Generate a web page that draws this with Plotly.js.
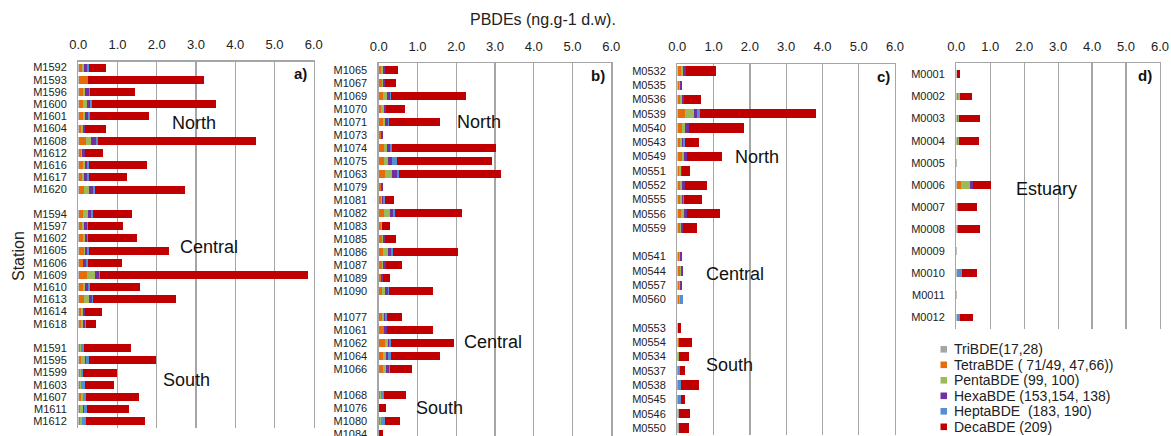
<!DOCTYPE html>
<html><head><meta charset="utf-8">
<script src="https://cdn.plot.ly/plotly-3.0.1.min.js"></script>
<style>html,body{margin:0;padding:0;overflow:hidden;background:#fff;width:1171px;height:436px}</style>
</head><body><div id="chart" style="width:1171px;height:470px"></div>
<script>
// ---------- series ----------
const seriesNames = ["TriBDE(17,28)", "TetraBDE ( 71/49, 47,66))", "PentaBDE (99, 100)", "HexaBDE (153,154, 138)", "HeptaBDE  (183, 190)", "DecaBDE (209)"];
const seriesColors = ["#a5a5a5", "#e46c0a", "#9bbb59", "#7030a0", "#558ed5", "#c00000"];

// ---------- panel a ----------
const aNorth   = ["M1592","M1593","M1596","M1600","M1601","M1604","M1608","M1612","M1616","M1617","M1620"];
const aCentral = ["M1594","M1597","M1602","M1605","M1606","M1609","M1610","M1613","M1614","M1618"];
const aSouth   = ["M1591","M1595","M1599","M1603","M1607","M1611","M1612"];
const aTri   = [0.02,0.02,0.02,0.02,0.02,0.02,0.02,0.02,0.02,0.02,0.02, 0.02,0.02,0.02,0.02,0.02,0.02,0.02,0.02,0.02,0.02, 0.02,0.02,0.02,0.02,0.02,0.02,0.02];
const aTetra = [0.08,0.23,0.09,0.09,0.09,0.04,0.17,0.04,0.09,0.07,0.13, 0.09,0.07,0.09,0.12,0.09,0.20,0.09,0.13,0.06,0.06, 0.02,0.05,0.02,0.02,0.04,0.02,0.03];
const aPenta = [0.05,0,0.07,0.11,0.06,0.05,0.14,0.04,0.05,0.06,0.12, 0.14,0.06,0.06,0.03,0,0.20,0.07,0.12,0.04,0.04, 0.03,0.10,0.02,0.04,0.06,0.07,0.05];
const aHexa  = [0.07,0,0.08,0.07,0.07,0.06,0.13,0.07,0.07,0.07,0.11, 0.08,0.08,0.05,0.05,0.08,0.10,0.07,0.08,0.05,0.06, 0,0.03,0,0,0,0.03,0];
const aHepta = [0.05,0,0.05,0.05,0.05,0,0.05,0,0.03,0.06,0.05, 0.05,0.02,0.02,0.04,0.06,0.04,0.04,0.03,0,0.02, 0.08,0.07,0.07,0.08,0.08,0.08,0.09];
const aDeca  = [0.44,2.96,1.14,3.16,1.50,0.53,4.02,0.45,1.48,0.97,2.28, 0.99,0.88,1.25,2.06,0.87,5.30,1.28,2.12,0.43,0.25, 1.19,1.72,0.85,0.74,1.34,1.07,1.50];

// ---------- panel b ----------
const bNorth   = ["M1065","M1067","M1069","M1070","M1071","M1073","M1074","M1075","M1063","M1079","M1081","M1082","M1083","M1085","M1086","M1087","M1089","M1090"];
const bCentral = ["M1077","M1061","M1062","M1064","M1066"];
const bSouth   = ["M1068","M1076","M1080","M1084"];
const bTri   = [0.02,0.02,0.02,0.02,0.02,0.02,0.02,0.02,0.02,0.02,0.02,0.02,0.02,0.02,0.02,0.02,0.02,0.02, 0.02,0.02,0.02,0.02,0.02, 0.02,0.02,0.02,0.01];
const bTetra = [0.04,0.06,0.09,0.05,0.09,0.05,0.11,0.11,0.13,0.04,0.04,0.11,0.04,0.06,0.09,0.06,0.04,0.07, 0.06,0.11,0.13,0.09,0.08, 0.02,0,0.02,0];
const bPenta = [0.04,0.03,0.11,0.06,0.06,0,0.09,0.11,0.20,0,0.03,0.15,0.03,0.03,0.12,0.04,0,0.08, 0.05,0,0.09,0.09,0.09, 0.03,0,0.03,0];
const bHexa  = [0.05,0.05,0.08,0.05,0.06,0.03,0.08,0.10,0.11,0.06,0.03,0.09,0,0.04,0.08,0.07,0.06,0.07, 0.04,0.08,0.03,0.04,0.07, 0,0,0,0];
const bHepta = [0,0,0.03,0,0.03,0,0.04,0.14,0.06,0,0.03,0.06,0,0,0.07,0,0,0.03, 0.04,0,0.04,0.07,0.02, 0.07,0,0.08,0];
const bDeca  = [0.34,0.28,1.92,0.49,1.32,0,2.69,2.43,2.64,0,0.24,1.71,0.21,0.29,1.67,0.42,0.18,1.14, 0.40,1.20,1.63,1.27,0.58, 0.57,0.17,0.40,0.09];

// ---------- panel c ----------
const cNorth   = ["M0532","M0535","M0536","M0539","M0540","M0543","M0549","M0551","M0552","M0555","M0556","M0559"];
const cCentral = ["M0541","M0544","M0557","M0560"];
const cSouth   = ["M0553","M0554","M0534","M0537","M0538","M0545","M0546","M0550"];
const cTri   = [0.02,0.02,0.02,0.02,0.02,0.02,0.02,0.02,0.02,0.02,0.02,0.02, 0.02,0.02,0.02,0.02, 0.01,0.02,0.02,0,0,0,0.04,0.04];
const cTetra = [0.07,0.04,0.05,0.20,0.10,0.05,0.10,0.04,0.05,0.05,0.08,0.05, 0.04,0.05,0.03,0.03, 0,0.02,0,0,0,0,0,0];
const cPenta = [0.08,0.02,0.05,0.25,0.10,0.05,0.06,0.04,0.06,0.05,0.08,0.04, 0.02,0.03,0.02,0.03, 0,0,0.03,0,0,0,0,0];
const cHexa  = [0.07,0.05,0.07,0.07,0.09,0.04,0.09,0.04,0.07,0.04,0.08,0.04, 0.05,0.05,0.05,0, 0,0,0,0,0,0,0,0];
const cHepta = [0,0,0,0.08,0,0.04,0,0,0.02,0.03,0,0, 0,0,0,0.07, 0,0,0,0.08,0.11,0.09,0,0];
const cDeca  = [0.83,0,0.46,3.20,1.52,0.40,0.96,0.21,0.60,0.48,0.93,0.39, 0,0,0,0, 0.09,0.36,0.27,0.12,0.48,0.13,0.30,0.29];

// ---------- panel d ----------
const dEstuary = ["M0001","M0002","M0003","M0004","M0005","M0006","M0007","M0008","M0009","M0010","M0011","M0012"];
const dTri   = [0.01,0.01,0.01,0.01,0.02,0.01,0.01,0.01,0.01,0.01,0.01,0.01];
const dTetra = [0.01,0.04,0.04,0.04,0,0.14,0.03,0.05,0,0.05,0,0];
const dPenta = [0,0.05,0.04,0.04,0,0.25,0,0,0,0,0,0];
const dHexa  = [0,0,0,0,0,0.10,0,0,0,0,0,0];
const dHepta = [0,0,0,0,0,0,0,0,0,0.10,0,0.09];
const dDeca  = [0.08,0.37,0.62,0.58,0,0.51,0.58,0.63,0,0.44,0,0.40];

const tickVals = [0,1,2,3,4,5,6];
const tickLabels = ["0.0","1.0","2.0","3.0","4.0","5.0","6.0"];

// ---------- layout helpers (pixels -> paper) ----------
const W = 1171, H = 470;
const PX = p => p / W, PY = p => 1 - p / H;

const panels = [
  {groups:[aNorth,aCentral,aSouth], series:[aTri,aTetra,aPenta,aHexa,aHepta,aDeca], x0:78.3, x1:313.7, top:61.5, rowH:12.2, rows:30, barW:0.66,
   label:"a)", labelPos:[5.88,0.45], regions:[["North",2.95,4.5],["Central",3.33,14.7],["South",2.76,25.6]]},
  {groups:[bNorth,bCentral,bSouth], series:[bTri,bTetra,bPenta,bHexa,bHepta,bDeca], x0:378.7, x1:611.3, top:63.3, rowH:13.0, rows:30, barW:0.62,
   label:"b)", labelPos:[5.88,0.44], regions:[["North",2.59,4.05],["Central",2.96,20.9],["South",1.56,26.0]]},
  {groups:[cNorth,cCentral,cSouth], series:[cTri,cTetra,cPenta,cHexa,cHepta,cDeca], x0:677.3, x1:895, top:63.8, rowH:14.28, rows:26, barW:0.65,
   label:"c)", labelPos:[5.91,0.42], regions:[["North",2.21,6.0],["Central",1.6,14.2],["South",1.43,20.6]]},
  {groups:[dEstuary], series:[dTri,dTetra,dPenta,dHexa,dHepta,dDeca], x0:956.3, x1:1160, top:63.3, rowH:22.1, rows:12, barW:0.35,
   label:"d)", labelPos:[5.82,0.06], regions:[["Estuary",2.65,5.2]]}
];

const data = [];
const annotations = [];
const shapes = [];
const layout = {
  width: W, height: H,
  margin: {l:0, r:0, t:0, b:0},
  paper_bgcolor: "#fff", plot_bgcolor: "#fff",
  barmode: "stack",
  showlegend: false,
  font: {family: "Liberation Sans, Arial, sans-serif", color: "#222"},
  annotations, shapes
};

panels.forEach((p, i) => {
  const n = i === 0 ? "" : String(i + 1);
  // build row positions, one blank row between groups
  const labels = [], rowsY = [];
  let r = 0;
  p.groups.forEach((g, gi) => {
    if (gi > 0) r++;
    g.forEach(s => { labels.push(s); rowsY.push(r); r++; });
  });
  p.series.forEach((vals, si) => {
    data.push({
      type: "bar", orientation: "h", x: vals, y: rowsY,
      width: p.barW,
      name: seriesNames[si],
      marker: {color: seriesColors[si], line: {width: 0}},
      xaxis: "x" + n, yaxis: "y" + n, hoverinfo: "x+name"
    });
  });
  const bottom = p.top + p.rowH * p.rows;
  layout["xaxis" + n] = {
    domain: [PX(p.x0), PX(p.x1)], anchor: "y" + n, side: "top",
    range: [0, 6], tickvals: tickVals, ticktext: tickLabels,
    showgrid: true, gridcolor: "#a6a6a6", gridwidth: 1.3,
    zeroline: false, showline: true, linecolor: "#a6a6a6", linewidth: 1.3,
    ticks: "", ticklabelstandoff: 6,
    tickfont: {size: 13, color: "#222"}, fixedrange: true
  };
  layout["yaxis" + n] = {
    domain: [PY(bottom), PY(p.top)], anchor: "x" + n,
    range: [p.rows - 0.5, -0.5], tickvals: rowsY, ticktext: labels,
    showgrid: false, zeroline: false, showline: true, mirror: true,
    linecolor: "#a6a6a6", linewidth: 1.3, ticks: "", ticklabelstandoff: 8,
    tickfont: {size: 11, color: "#222"}, fixedrange: true
  };
  p.regions.forEach(([t, x, y]) => annotations.push({
    text: t, x, y, xref: "x" + n, yref: "y" + n, showarrow: false,
    font: {size: 18, color: "#111"}, xanchor: "center", yanchor: "middle"
  }));
  annotations.push({
    text: "<b>" + p.label + "</b>", x: p.labelPos[0], y: p.labelPos[1],
    xref: "x" + n, yref: "y" + n, showarrow: false,
    font: {size: 15, color: "#111"}, xanchor: "right", yanchor: "middle"
  });
});

// titles
annotations.push({text: "PBDEs (ng.g-1 d.w).", x: PX(543), y: PY(20), xref: "paper", yref: "paper",
  showarrow: false, font: {size: 16, color: "#222"}, xanchor: "center", yanchor: "middle"});
annotations.push({text: "Station", x: PX(18), y: PY(256), xref: "paper", yref: "paper", textangle: -90,
  showarrow: false, font: {size: 16, color: "#222"}, xanchor: "center", yanchor: "middle"});

// custom legend
seriesNames.forEach((nm, si) => {
  const cy = 349.3 + si * 15.5;
  shapes.push({type: "rect", xref: "paper", yref: "paper",
    x0: PX(940.5), x1: PX(947), y0: PY(cy - 3.3), y1: PY(cy + 3.3),
    fillcolor: seriesColors[si], line: {width: 0}});
  annotations.push({text: nm, x: PX(951.5), y: PY(cy), xref: "paper", yref: "paper",
    showarrow: false, font: {size: 14, color: "#222"}, xanchor: "left", yanchor: "middle"});
});

Plotly.newPlot("chart", data, layout, {displayModeBar: false, staticPlot: true});
</script>
</body></html>
